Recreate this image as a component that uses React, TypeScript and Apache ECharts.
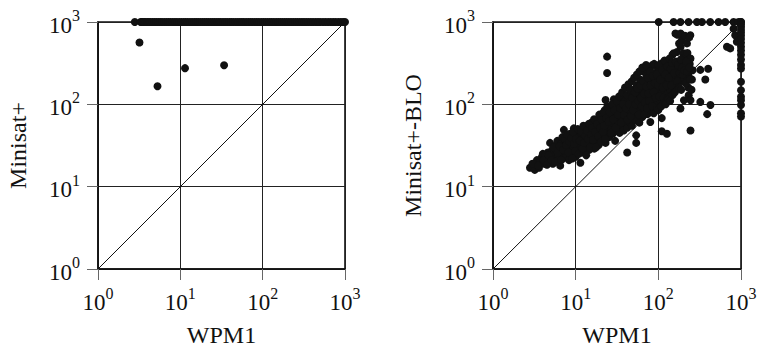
import React, { useEffect, useRef } from "react";
import * as echarts from "echarts";

// Left plot: Minisat+ vs WPM1
const leftTimeoutX = [
  2.8, 3.3, 3.4, 3.5, 3.65, 3.8, 4.0, 4.15, 4.35, 4.6, 4.85, 5.1, 5.4, 5.7, 6.0, 6.4, 6.8, 7.2, 7.6, 8.1,
  8.6, 9.1, 9.7, 10.3, 11, 11.6, 12.3, 13.1, 13.9, 14.8, 15.6, 16.5, 17.5, 18.6, 19.7, 20.8, 22, 23.4, 24.8,
  26.2, 27.8, 29.4, 31, 33, 35, 37, 39.5, 41.5, 44, 47, 50, 53, 56, 59, 63, 67, 71, 75, 80, 85, 90, 96, 102,
  108, 115, 122, 129, 137, 146, 155, 164, 174, 185, 196, 208, 221, 235, 250, 265, 282, 300, 318, 338, 360,
  385, 410, 440, 470, 500, 540, 580, 625, 670, 720, 770, 830, 890, 950, 1000,
];
const leftTimeoutY = 1000;
const leftOther: [number, number][] = [
  [3.19, 563], [5.28, 166], [11.4, 275], [34, 299],
];

// Right plot: Minisat+-BLO vs WPM1
const rightCluster: [number, number][] = [
  [2.8, 17], [3.2, 16], [3.6, 17], [3.4, 21], [3.9, 23], [3.7, 20], [4.0, 25], [4.2, 19], [4.4, 22], [4.6, 26],
  [4.3, 24], [4.8, 20], [4.9, 34], [5.0, 23], [5.2, 28], [5.3, 19], [5.5, 25], [5.6, 31], [5.8, 22], [5.9, 27],
  [6.0, 36], [6.2, 24], [6.3, 29], [6.5, 18], [6.6, 33], [6.8, 26], [6.9, 40], [7.0, 22], [7.2, 49], [7.3, 30],
  [7.5, 27], [7.6, 35], [7.8, 24], [8.0, 38], [8.1, 31], [8.3, 21], [8.5, 28], [8.6, 44], [8.8, 33], [9.0, 25],
  [9.2, 36], [9.5, 51], [9.4, 29], [9.7, 40], [10, 23], [10, 33], [10.3, 45], [10.5, 28], [10.8, 38], [11, 31],
  [11.4, 19.5], [11.5, 42], [11.8, 26], [12, 35], [12.2, 50], [12.5, 30], [12.8, 40], [13, 27], [13.2, 46],
  [13.5, 36], [13.8, 55], [14, 32], [14.3, 42], [14.6, 28], [15, 48], [15.2, 38], [15.5, 60], [15.8, 33],
  [16, 44], [16.5, 52], [16.8, 29], [17, 40], [17.5, 65], [17.8, 36], [18, 48], [18.5, 56], [19, 32], [19.5, 44],
  [20, 72], [20.5, 38], [21, 52], [21.5, 60], [22, 42], [22.5, 85], [23, 113], [23, 34], [24, 48], [24, 380],
  [24, 240], [24.5, 70], [25, 56], [25.5, 40], [26, 64], [26.5, 90], [27, 50], [28, 44], [28, 75], [29, 115],
  [29, 58], [30, 66], [30, 36], [31, 82], [32, 50], [32, 98], [33, 62], [34, 72], [34, 45], [35, 105], [36, 56],
  [36, 84], [37, 68], [38, 92], [38, 48], [39, 120], [40, 60], [40, 78], [41, 100], [42, 26], [42, 52], [43, 88],
  [44, 70], [45, 130], [45, 62], [46, 110], [47, 80], [48, 55], [48, 95], [50, 150], [50, 72], [51, 120],
  [52, 86], [53, 64], [54, 34], [54, 42], [54, 105], [55, 170], [56, 78], [57, 135], [58, 95], [59, 60],
  [60, 115], [60, 200], [62, 85], [63, 150], [64, 70], [65, 125], [66, 250], [67, 100], [68, 180], [70, 88],
  [70, 140], [72, 220], [73, 115], [74, 76], [75, 160], [77, 100], [78, 270], [79, 130], [80, 61], [80, 200],
  [82, 90], [83, 150], [85, 300], [85, 115], [87, 175], [88, 78], [90, 240], [90, 135], [92, 100], [94, 190],
  [95, 160], [96, 290], [98, 120], [100, 210], [100, 85], [102, 150], [104, 260], [105, 180], [107, 110],
  [108, 230], [110, 68], [110, 316], [110, 47], [112, 140], [114, 200], [115, 170], [117, 250], [118, 120],
  [120, 190], [122, 280], [124, 160], [127, 44], [128, 210], [130, 135], [132, 240], [135, 180], [138, 300],
  [140, 150], [142, 220], [145, 260], [148, 400], [150, 190], [155, 316], [157, 230], [161, 725],
  [186, 725], [193, 600], [244, 690], [222, 550], [168, 433], [202, 417], [153, 417], [186, 500],
  [162, 160], [168, 270], [170, 700], [175, 210], [178, 550], [180, 320],
  [185, 89], [188, 250], [195, 360], [198, 190],
  [204, 112], [205, 290], [210, 680], [212, 350], [215, 220], [225, 420], [230, 160],
  [233, 129], [233, 220], [236, 650], [240, 310], [245, 360], [245, 112], [245, 48], [255, 200],
  [260, 260], [322, 107], [427, 98], [390, 76], [370, 200], [322, 262], [400, 270], [676, 500], [741, 478],
  [813, 830], [850, 690], [890, 575],
  [3.0, 19], [3.5, 18], [4.1, 21], [4.5, 18.5], [4.7, 24], [5.1, 21], [5.4, 30], [5.7, 20], [6.1, 26], [6.4, 31],
  [6.7, 21], [7.1, 28], [7.4, 38], [7.7, 32], [7.9, 43], [8.2, 26], [8.4, 35], [8.9, 39], [9.1, 22], [9.3, 46],
  [9.6, 33], [9.9, 27], [10.2, 38], [10.6, 50], [10.9, 25], [11.2, 36], [11.7, 47], [12.1, 29], [12.4, 55],
  [12.7, 34], [13.1, 42], [13.4, 24], [13.7, 48], [14.1, 38], [14.5, 58], [14.9, 30], [15.4, 43], [15.9, 52],
  [16.3, 37], [16.7, 66], [17.2, 46], [17.6, 30], [18.2, 58], [18.8, 41], [19.3, 75], [19.8, 52], [20.3, 35],
  [20.8, 64], [21.3, 46], [21.8, 80], [22.3, 55], [22.8, 38], [23.5, 68], [24.2, 95], [25.2, 62], [25.8, 80],
  [26.8, 45], [27.5, 100], [28.5, 66], [29.5, 85], [30.5, 52], [31.5, 110], [32.5, 75], [33.5, 125], [34.5, 90],
  [35.5, 60], [36.5, 140], [37.5, 100], [38.5, 75], [39.5, 160], [40.5, 90], [41.5, 130], [42.5, 65], [43.5, 175],
  [44.5, 100], [45.5, 150], [46.5, 72], [47.5, 190], [48.5, 120], [49.5, 85], [51, 210], [52, 140], [53, 100],
  [55, 230], [56, 155], [57, 110], [58, 75], [59, 250], [61, 170], [62, 120], [63, 95], [64, 280], [66, 190],
  [67, 135], [68, 75], [69, 105], [71, 300], [72, 165], [73, 90], [75, 210], [76, 135], [78, 110], [80, 250],
  [81, 170], [84, 95], [86, 220], [88, 140], [89, 310], [91, 180], [93, 120], [96, 230], [97, 90], [99, 170],
  [101, 300], [103, 125], [106, 200], [109, 95], [111, 260], [113, 160], [116, 120], [119, 340], [121, 230],
  [123, 100], [126, 170], [129, 290], [131, 120], [134, 210], [137, 360], [139, 110], [141, 270], [144, 170],
  [147, 320], [149, 130], [154, 240], [159, 140], [163, 330], [169, 190],
  [174, 300], [177, 160], [181, 240], [187, 350], [189, 150],
  [194, 280], [199, 230], [207, 260], [214, 180], [218, 330], [223, 250],
  [238, 280], [243, 200], [252, 150],
];
const rightTopX = [101, 153, 185, 232, 293, 337, 424, 535, 644, 813, 933, 1000];
const rightTopY = 1000;
const rightColY = [1000, 930, 870, 800, 740, 680, 620, 560, 500, 450, 400, 350, 300, 273, 188, 148, 124, 112, 98, 78, 71];
const rightColX = 1000;

const tickValues = [1, 10, 100, 1000];
const FONT = "'Liberation Serif', 'Times New Roman', serif";

function makeAxis(name: string, isX: boolean, gridIndex: number) {
  return {
    type: "log",
    logBase: 10,
    min: tickValues[0],
    max: tickValues[tickValues.length - 1],
    gridIndex,
    name,
    nameLocation: "middle",
    nameGap: isX ? 54 : 68,
    nameTextStyle: { fontFamily: FONT, fontSize: 24, color: "#111" },
    axisLine: { show: true, lineStyle: { color: "#111", width: 1.6 } },
    axisTick: { show: true, inside: false, length: 11, lineStyle: { color: "#666", width: 1 } },
    splitLine: { show: true, lineStyle: { color: "#222", width: 1 } },
    axisLabel: {
      margin: isX ? 16 : 18,
      formatter: (v: number) => `{b|10}{s|${Math.round(Math.log10(v))}}`,
      rich: {
        b: { fontFamily: FONT, fontSize: 23, color: "#111", lineHeight: 29, verticalAlign: "bottom" },
        s: { fontFamily: FONT, fontSize: 16, color: "#111", verticalAlign: "top", lineHeight: 16 },
      },
    },
  };
}

export default function App() {
  const ref = useRef<HTMLDivElement>(null);
  useEffect(() => {
    if (!ref.current) return;
    const chart = echarts.init(ref.current, undefined, { renderer: "svg" });
    const pointStyle = { color: "#111", opacity: 1 };
    chart.setOption({
      animation: false,
      backgroundColor: "#fff",
      grid: [
        {
          left: 98, top: 22, width: 247, height: 247, show: true, borderColor: "#111", borderWidth: 1.6,
          containLabel: false, outerBoundsMode: "none",
        },
        {
          left: 493, top: 22, width: 248, height: 247, show: true, borderColor: "#111", borderWidth: 1.6,
          containLabel: false, outerBoundsMode: "none",
        },
      ],
      xAxis: [makeAxis("WPM1", true, 0), makeAxis("WPM1", true, 1)],
      yAxis: [makeAxis("Minisat+", false, 0), makeAxis("Minisat+-BLO", false, 1)],
      series: [
        {
          type: "line", xAxisIndex: 0, yAxisIndex: 0, symbol: "none",
          data: [[1, 1], [1000, 1000]], lineStyle: { color: "#111", width: 1 }, silent: true,
        },
        {
          type: "line", xAxisIndex: 1, yAxisIndex: 1, symbol: "none",
          data: [[1, 1], [1000, 1000]], lineStyle: { color: "#111", width: 1 }, silent: true,
        },
        {
          type: "scatter", xAxisIndex: 0, yAxisIndex: 0, symbolSize: 8, itemStyle: pointStyle,
          data: [...leftTimeoutX.map((x) => [x, leftTimeoutY]), ...leftOther],
        },
        {
          type: "scatter", xAxisIndex: 1, yAxisIndex: 1, symbolSize: 8, itemStyle: pointStyle,
          data: [
            ...rightCluster,
            ...rightTopX.map((x) => [x, rightTopY]),
            ...rightColY.map((y) => [rightColX, y]),
          ],
        },
      ],
    });
    return () => chart.dispose();
  }, []);
  return (
    <div
      ref={ref}
      style={{ position: "fixed", left: 0, top: 0, width: 758, height: 347, background: "#fff" }}
    />
  );
}
